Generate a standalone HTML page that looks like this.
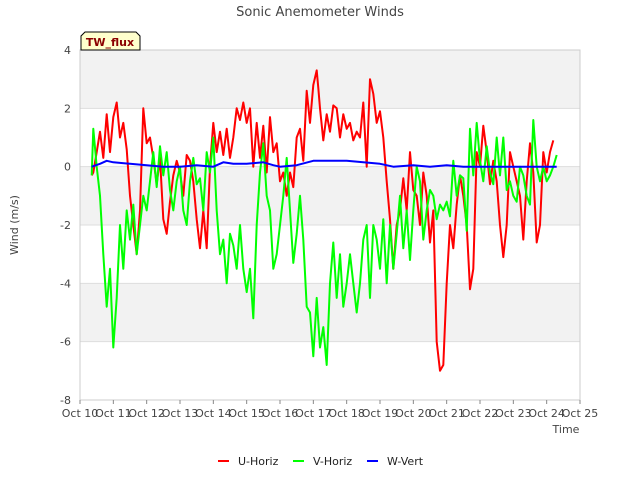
<!DOCTYPE html>
<html><head><meta charset="utf-8"><style>
body{margin:0;background:#fff;font-family:"Liberation Sans","DejaVu Sans",sans-serif;}
svg text{font-family:"DejaVu Sans","Liberation Sans",sans-serif;}
</style></head><body>
<svg id="chart" width="640" height="480" xmlns="http://www.w3.org/2000/svg">
<text x="320" y="16" text-anchor="middle" font-size="13" fill="#444">Sonic Anemometer Winds</text>
<g id="bands"></g>
<g id="grid"></g>
<g id="yticks"></g>
<g id="xticks"></g>
<g id="series"></g>
<text transform="translate(18,225) rotate(-90)" text-anchor="middle" font-size="11" fill="#444">Wind (m/s)</text>
<text x="566" y="433" text-anchor="middle" font-size="11" fill="#444">Time</text>
<g>
<path d="M81,50 L81,36 L85,32 L136,32 L140,36 L140,50 Z" fill="#ffffcc" stroke="#000" stroke-width="1"/>
<text x="110" y="46" text-anchor="middle" font-size="11" font-weight="bold" fill="#8b0000">TW_flux</text>
</g>
<g>
<g><line x1="218" y1="461" x2="229" y2="461" stroke="#f00" stroke-width="2"/><text x="238" y="465" font-size="11" fill="#222">U-Horiz</text></g>
<g><line x1="293" y1="461" x2="304" y2="461" stroke="#0f0" stroke-width="2"/><text x="313" y="465" font-size="11" fill="#222">V-Horiz</text></g>
<g><line x1="367" y1="461" x2="378" y2="461" stroke="#00f" stroke-width="2"/><text x="387" y="465" font-size="11" fill="#222">W-Vert</text></g>
</g>
</svg>
<script>
const yTicks=[-8,-6,-4,-2,0,2,4];
const xTickLabels=["Oct 10","Oct 11","Oct 12","Oct 13","Oct 14","Oct 15","Oct 16","Oct 17","Oct 18","Oct 19","Oct 20","Oct 21","Oct 22","Oct 23","Oct 24","Oct 25"];
const xTickDays=[10,11,12,13,14,15,16,17,18,19,20,21,22,23,24,25];
const uDays=[10.35,10.4,10.5,10.6,10.7,10.8,10.9,11,11.1,11.2,11.3,11.4,11.5,11.6,11.7,11.8,11.9,12,12.1,12.2,12.3,12.4,12.5,12.6,12.7,12.8,12.9,13,13.1,13.2,13.3,13.4,13.5,13.6,13.7,13.8,13.9,14,14.1,14.2,14.3,14.4,14.5,14.6,14.7,14.8,14.9,15,15.1,15.2,15.3,15.4,15.5,15.6,15.7,15.8,15.9,16,16.1,16.2,16.3,16.4,16.5,16.6,16.7,16.8,16.9,17,17.1,17.15,17.2,17.3,17.4,17.5,17.6,17.7,17.8,17.9,18,18.1,18.2,18.3,18.4,18.5,18.6,18.7,18.8,18.9,19,19.1,19.2,19.3,19.4,19.5,19.6,19.7,19.8,19.9,20,20.1,20.2,20.3,20.4,20.5,20.6,20.7,20.8,20.9,21,21.1,21.2,21.3,21.4,21.5,21.6,21.7,21.8,21.9,22,22.1,22.2,22.3,22.4,22.5,22.6,22.7,22.8,22.9,23,23.1,23.2,23.3,23.4,23.5,23.6,23.7,23.8,23.9,24,24.1,24.2,24.3];
const uVals=[-0.3,-0.2,0.5,1.2,0.3,1.8,0.5,1.7,2.2,1.0,1.5,0.6,-1.0,-2.0,-3.0,-1.5,2.0,0.8,1.0,0.3,-0.6,0.3,-1.8,-2.3,-1.2,-0.3,0.2,-0.2,-1.0,0.4,0.2,-0.5,-1.8,-2.8,-1.5,-2.8,0.0,1.5,0.5,1.2,0.4,1.3,0.3,1.0,2.0,1.6,2.2,1.5,2.0,0.0,1.5,0.3,1.4,-0.2,1.7,0.5,0.8,-0.5,-0.2,-1.0,-0.2,-0.7,1.0,1.3,0.2,2.6,1.5,2.8,3.3,2.7,2.0,0.9,1.8,1.2,2.1,2.0,1.0,1.8,1.3,1.5,0.9,1.2,1.0,2.2,0.0,3.0,2.5,1.5,1.9,1.0,-0.5,-1.8,-3.5,-2.0,-1.5,-0.4,-1.5,0.5,-0.8,-1.0,-2.0,-0.2,-1.0,-2.6,-1.5,-6.0,-7.0,-6.8,-4.0,-2.0,-2.8,-1.3,-0.3,-1.0,-2.0,-4.2,-3.5,0.5,0.0,1.4,0.5,-0.6,0.2,-0.5,-2.0,-3.1,-2.0,0.5,0.0,-0.5,-1.0,-2.5,-0.5,0.8,-0.2,-2.6,-2.0,0.5,-0.2,0.5,0.9];
const vDays=[10.35,10.4,10.5,10.6,10.7,10.8,10.9,11,11.1,11.2,11.3,11.4,11.5,11.6,11.7,11.8,11.9,12,12.1,12.2,12.3,12.4,12.5,12.6,12.7,12.8,12.9,13,13.1,13.2,13.3,13.4,13.5,13.6,13.7,13.8,13.9,14,14.1,14.2,14.3,14.4,14.5,14.6,14.7,14.8,14.9,15,15.1,15.2,15.3,15.4,15.5,15.6,15.7,15.8,15.9,16,16.1,16.2,16.3,16.4,16.5,16.6,16.7,16.8,16.9,17,17.1,17.2,17.3,17.4,17.5,17.6,17.7,17.8,17.9,18,18.1,18.2,18.3,18.4,18.5,18.6,18.7,18.8,18.9,19,19.1,19.2,19.3,19.4,19.5,19.6,19.7,19.8,19.9,20,20.1,20.2,20.3,20.4,20.5,20.6,20.7,20.8,20.9,21,21.1,21.2,21.3,21.4,21.5,21.6,21.7,21.8,21.9,22,22.1,22.2,22.3,22.4,22.5,22.6,22.7,22.8,22.9,23,23.1,23.2,23.3,23.4,23.5,23.6,23.7,23.8,23.9,24,24.1,24.2,24.3];
const vVals=[-0.3,1.3,0.0,-1.0,-3.0,-4.8,-3.5,-6.2,-4.5,-2.0,-3.5,-1.5,-2.5,-1.3,-3.0,-2.0,-1.0,-1.5,-0.5,0.5,-0.7,0.7,-0.3,0.5,-0.8,-1.5,-0.5,0.0,-1.5,-2.0,-0.5,0.3,-0.6,-0.4,-1.5,0.5,-0.2,1.0,-1.5,-3.0,-2.5,-4.0,-2.3,-2.7,-3.5,-2.0,-3.5,-4.3,-3.5,-5.2,-2.0,-0.2,0.8,-1.0,-1.5,-3.5,-3.0,-2.0,-1.0,0.3,-1.5,-3.3,-2.3,-1.0,-2.5,-4.8,-5.0,-6.5,-4.5,-6.2,-5.5,-6.8,-4.0,-2.6,-4.5,-3.0,-4.8,-4.0,-3.0,-4.0,-5.0,-4.0,-2.5,-2.0,-4.5,-2.0,-2.5,-3.5,-1.8,-4.0,-2.0,-3.5,-2.3,-1.0,-2.8,-1.5,-3.2,-1.5,0.0,-0.5,-2.5,-1.5,-0.8,-1.0,-1.8,-1.3,-1.5,-1.2,-1.7,0.2,-1.0,-0.3,-0.4,-2.2,1.3,-0.3,1.5,0.2,-0.5,0.7,-0.2,-0.6,1.0,-0.3,1.0,-0.8,-0.5,-1.0,-1.2,0.0,-0.3,-1.0,-1.3,1.6,0.0,-0.5,0.0,-0.5,-0.3,0.0,0.4];
const wDays=[10.35,10.6,10.8,11.0,11.5,12.0,12.5,13.0,13.5,14.0,14.3,14.6,15.0,15.5,15.8,16.0,16.5,17.0,17.5,18.0,18.5,19.0,19.4,20.0,20.5,21.0,21.5,22.0,23.0,24.0,24.3];
const wVals=[0.0,0.1,0.2,0.15,0.1,0.05,0.0,0.0,0.05,0.0,0.15,0.1,0.1,0.15,0.05,0.0,0.05,0.2,0.2,0.2,0.15,0.1,0.0,0.05,0.0,0.05,0.0,0.0,0.0,0.0,0.0];

const X0=80,X1=580,Y0=50,Y1=400;
function xs(d){return X0+(d-10)/15*(X1-X0);}
function ys(v){return Y1-(v+8)/12*(Y1-Y0);}
const NS="http://www.w3.org/2000/svg";
function mk(tag,attrs,parent){const e=document.createElementNS(NS,tag);for(const k in attrs)e.setAttribute(k,attrs[k]);parent.appendChild(e);return e;}
const bands=document.getElementById('bands');
for(let i=0;i<yTicks.length-1;i++){
  const lo=yTicks[i],hi=yTicks[i+1];
  const r=mk('rect',{x:X0,y:ys(hi),width:X1-X0,height:ys(lo)-ys(hi),fill:(i%2===1)?'#f2f2f2':'#ffffff'},bands);
  
  
}
const grid=document.getElementById('grid');
yTicks.forEach(t=>{const l=mk('line',{x1:X0,x2:X1,y1:ys(t),y2:ys(t),stroke:'#ddd','stroke-width':1},grid);

});
mk('rect',{x:X0,y:Y0,width:X1-X0,height:Y1-Y0,fill:'none',stroke:'#ccc'},grid);
const yt=document.getElementById('yticks');
yTicks.forEach(t=>{const e=mk('text',{x:71,y:ys(t)+4,'text-anchor':'end','font-size':11,fill:'#444'},yt);e.textContent=t;

});
const xt=document.getElementById('xticks');
xTickDays.forEach((d,i)=>{mk('line',{x1:xs(d),x2:xs(d),y1:Y1,y2:Y1+4,stroke:'#888'},xt);
const e=mk('text',{x:xs(d),y:Y1+17,'text-anchor':'middle','font-size':11,fill:'#444'},xt);e.textContent=xTickLabels[i];

});
const sg=document.getElementById('series');
function line(days,vals,color,name){
  const pts=days.map((d,i)=>xs(d).toFixed(1)+','+ys(vals[i]).toFixed(1)).join(' ');
  const p=mk('polyline',{points:pts,fill:'none',stroke:color,'stroke-width':2,'stroke-linejoin':'round'},sg);
  
  
}
line(uDays,uVals,'#ff0000','u-horiz-line');
line(vDays,vVals,'#00ff00','v-horiz-line');
line(wDays,wVals,'#0000ff','w-vert-line');
</script>
</body></html>
